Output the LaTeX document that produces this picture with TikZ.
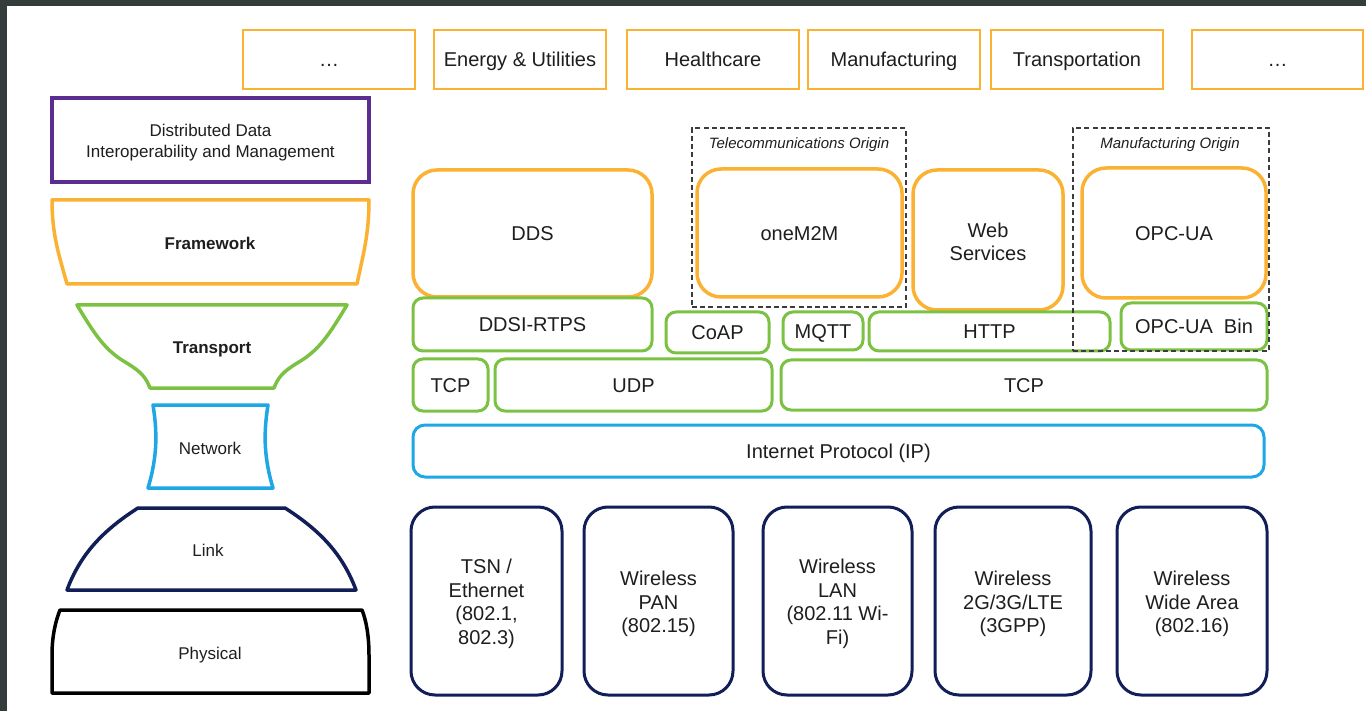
\documentclass[tikz,border=0pt]{standalone}
\usepackage{fontspec}
\setmainfont{Liberation Sans}
\definecolor{frame}{RGB}{53,61,60}
\definecolor{orng}{RGB}{251,178,50}
\definecolor{grn}{RGB}{124,194,66}
\definecolor{blu}{RGB}{29,167,229}
\definecolor{navy}{RGB}{17,30,87}
\definecolor{purp}{RGB}{92,45,145}
\definecolor{txt}{RGB}{30,30,30}
\definecolor{dashc}{RGB}{60,60,60}
% box from corner (x1,y1) to (x2,y2), in pixel units
\newcommand\blk[7]{\node[#2, minimum width={(#5-#3)*0.5pt}, minimum height={(#6-#4)*0.5pt}] (#1) at ({(#3+#5)/2},{(#4+#6)/2}) {#7};}
% same, with several lines of text set as a centred label (style #8)
\newcommand\blkm[8]{\node[#2, minimum width={(#5-#3)*0.5pt}, minimum height={(#6-#4)*0.5pt}, label={[#8]center:{#7}}] (#1) at ({(#3+#5)/2},{(#4+#6)/2}) {};}
\begin{document}
\begin{tikzpicture}[x=0.5pt,y=-0.5pt,
  every node/.style={font=\fontsize{10}{11.75}\selectfont, text=txt, align=center, inner sep=0pt},
  oneline/.style={text height=7.6pt, text depth=0.4pt},
  multiline/.style={yshift=-1.5pt},
  topbox/.style={draw=orng, line width=0.75pt, oneline},
  appbox/.style={draw=orng, line width=1.75pt, rounded corners=12pt},
  protobox/.style={draw=grn, line width=1.5pt, rounded corners=5pt, oneline},
  ipbox/.style={draw=blu, line width=1.5pt, rounded corners=6pt, oneline},
  phybox/.style={draw=navy, line width=1.5pt, rounded corners=12pt},
  originbox/.style={draw=dashc, line width=0.75pt, dash pattern=on 2.5pt off 1.6pt},
  originlbl/.style={font=\fontsize{7.5}{9}\selectfont\itshape, text height=5.7pt, text depth=0.3pt},
  layerlbl/.style={font=\fontsize{8.5}{10.5}\selectfont},
  layerone/.style={layerlbl, text height=6.5pt, text depth=0.3pt},
  layerbold/.style={font=\fontsize{8.5}{10.5}\selectfont\bfseries, text height=6.5pt, text depth=0.3pt},
  shapeline/.style={line width=1.75pt, line join=round}]
\useasboundingbox (0,0) rectangle (1366,711);
\fill[frame] (0,0) rectangle (1366,711);
\fill[white] (7,6) rectangle (1366,711);

% industry domains
\blk{dom0}{topbox}{243}{30}{415}{89}{\ldots}
\blk{dom1}{topbox}{434}{30}{606}{89}{Energy \& Utilities}
\blk{dom2}{topbox}{627}{30}{799}{89}{Healthcare}
\blk{dom3}{topbox}{808}{30}{980}{89}{Manufacturing}
\blk{dom4}{topbox}{991}{30}{1163}{89}{Transportation}
\blk{dom5}{topbox}{1192}{30}{1363}{89}{\ldots}

% layer stack on the left
\blkm{ddim}{draw=purp, line width=1.75pt}{52}{98}{369}{182}{Distributed Data\\Interoperability and Management}{layerlbl, multiline}

\draw[shapeline, draw=orng] (52,200) -- (369,200) .. controls (369,235) and (363,255) .. (357,284)
  -- (67,284) .. controls (59,255) and (52,235) .. (52,200) -- cycle;
\node[layerbold] (lfw) at (210,243) {Framework};

\draw[shapeline, draw=grn] (77,305) -- (347,305) .. controls (329,335) and (319,350) .. (299,362)
  .. controls (282,372) and (278,378) .. (274,388) -- (150,388)
  .. controls (146,378) and (142,372) .. (125,362) .. controls (105,350) and (95,335) .. (77,305) -- cycle;
\node[layerbold] (ltr) at (212,347) {Transport};

\draw[shapeline, draw=blu] (153,405) -- (268,405) .. controls (264,430) and (263,455) .. (273,488)
  -- (148,488) .. controls (158,455) and (157,430) .. (153,405) -- cycle;
\node[layerone] (lnw) at (210,448) {Network};

\draw[shapeline, draw=navy] (138,508) -- (285,508) .. controls (321,531) and (343,555) .. (356,590)
  -- (67,590) .. controls (80,555) and (102,531) .. (138,508) -- cycle;
\node[layerone] (llk) at (208,550) {Link};

\draw[shapeline, draw=black] (60,610) -- (362,610) .. controls (366,620) and (369,635) .. (369,655)
  -- (369,693) -- (52,693) -- (52,655) .. controls (52,635) and (56,620) .. (60,610) -- cycle;
\node[layerone] (lph) at (210,653) {Physical};

% frameworks
\blk{dds}{appbox, oneline}{413}{170}{652}{297}{DDS}
\blk{m2m}{appbox, oneline}{697}{169}{902}{297}{oneM2M}
\blkm{web}{appbox}{913}{170}{1063}{310}{Web\\Services}{yshift=-1pt}
\blk{opc}{appbox, oneline}{1082}{168}{1266}{298}{OPC-UA}

% transport protocols
\blk{rtps}{protobox}{413}{298}{652}{351}{DDSI-RTPS}
\blk{coap}{protobox}{666}{312}{769}{353}{CoAP}
\blk{mqtt}{protobox}{783}{312}{863}{350}{MQTT}
\blk{http}{protobox}{869}{312}{1110}{351}{HTTP}
\blk{opcb}{protobox}{1121}{303}{1267}{350}{OPC-UA\ \ Bin}
\blk{tcpa}{protobox}{413}{359}{488}{411}{TCP}
\blk{udp}{protobox}{495}{359}{772}{411}{UDP}
\blk{tcpb}{protobox}{781}{360}{1267}{410}{TCP}

% network
\blk{ip}{ipbox}{413}{425}{1264}{477}{Internet Protocol (IP)}

% links
\blkm{tsn}{phybox}{411}{507}{562}{695}{TSN /\\Ethernet\\(802.1,\\802.3)}{multiline}
\blkm{pan}{phybox}{584}{507}{733}{695}{Wireless\\PAN\\(802.15)}{multiline}
\blkm{lan}{phybox}{763}{507}{912}{695}{Wireless\\LAN\\(802.11 Wi-\\Fi)}{multiline}
\blkm{cell}{phybox}{935}{507}{1091}{695}{Wireless\\2G/3G/LTE\\(3GPP)}{multiline}
\blkm{wan}{phybox}{1117}{507}{1267}{695}{Wireless\\Wide Area\\(802.16)}{multiline}

% origin groupings
\blk{telo}{originbox}{692}{128}{906}{307}{}
\node[originlbl] (telol) at (799,143) {Telecommunications Origin};
\blk{mano}{originbox}{1073}{128}{1269}{351}{}
\node[originlbl] (manol) at (1170,143) {Manufacturing Origin};
\end{tikzpicture}
\end{document}
